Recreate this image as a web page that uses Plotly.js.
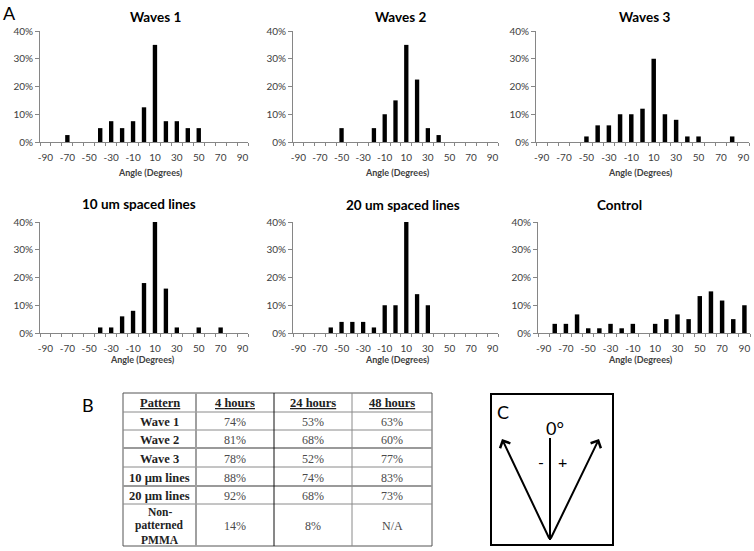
<!DOCTYPE html>
<html>
<head>
<meta charset="utf-8">
<script src="https://cdn.plot.ly/plotly-3.0.1.min.js"></script>
<style>html,body{margin:0;padding:0;background:#fff;}#chart{width:754px;height:551px;}</style>
</head>
<body>
<div id="chart"></div>
<script>
// ---- data ----
const angles = [-90,-80,-70,-60,-50,-40,-30,-20,-10,0,10,20,30,40,50,60,70,80,90];
const waves1  = [0,0,2.5,0,0,5,7.5,5,7.5,12.5,35,7.5,7.5,5,5,0,0,0,0];
const waves2  = [0,0,0,0,5,0,0,5,10,15,35,22.5,5,2.5,0,0,0,0,0];
const waves3  = [0,0,0,0,2,6,6,10,10,12,30,10,8,2,2,0,0,2,0];
const lines10 = [0,0,0,0,0,2,2,6,8,18,40,16,2,0,2,0,2,0,0];
const lines20 = [0,0,0,2,4,4,4,2,10,10,40,14,10,0,0,0,0,0,0];
const control = [0,3.3,3.3,6.7,1.7,1.7,3.3,1.7,3.3,0,3.3,5,6.7,5,13.3,15,11.7,5,10];
const panelTitles = ['Waves 1','Waves 2','Waves 3','10 um spaced lines','20 um spaced lines','Control'];
const xTitle = 'Angle (Degrees)';
const xTickLabels = ['-90','-70','-50','-30','-10','10','30','50','70','90'];

const tableHeader = ['Pattern','4 hours','24 hours','48 hours'];
const patterns = ['Wave 1','Wave 2','Wave 3','10 µm lines','20 µm lines','Non-<br>patterned<br>PMMA'];
const hours4  = ['74%','81%','78%','88%','92%','14%'];
const hours24 = ['53%','68%','52%','74%','68%','8%'];
const hours48 = ['63%','60%','77%','83%','73%','N/A'];

// ---- layout helpers ----
const W = 754, H = 551;
const px = v => v / W;
const py = v => 1 - v / H;
const FONT = 'Lato, "Open Sans", sans-serif';
const SERIF = '"Liberation Serif", "DejaVu Serif", serif';
const TXT = '#404040';
const AXC = '#868686';

const series = [waves1, waves2, waves3, lines10, lines20, control];
const xDom = [[40,248],[293,498],[536,749],[40,248],[293,498],[538,750]];
const yDom = [[142,31],[142,31],[142,31],[333,222],[333,222],[333,222]];
const titlePos = [[155,17],[400,17],[644,17],[139,204],[403,205],[619,205]];
const xTitlePos = [[150,173],[397,173],[640,173],[142,359],[397,359],[640,359]];
const boundaries = angles.map(a => a - 5).concat([angles[angles.length - 1] + 5]);

const data = [];
const layout = {
  width: W, height: H,
  margin: {l:0, r:0, t:0, b:0},
  paper_bgcolor: '#fff', plot_bgcolor: '#fff',
  showlegend: false,
  bargap: 0.6,
  font: {family: FONT, color: TXT},
  annotations: [], shapes: []
};

series.forEach((s, i) => {
  const n = i === 0 ? '' : (i + 1);
  data.push({
    type: 'bar', x: angles, y: s,
    xaxis: 'x' + n, yaxis: 'y' + n,
    marker: {color: '#000', line: {width: 0}},
    hoverinfo: 'x+y'
  });
  layout['xaxis' + n] = {
    domain: [px(xDom[i][0]), px(xDom[i][1])],
    anchor: 'y' + n,
    range: [boundaries[0], boundaries[boundaries.length - 1]],
    tickmode: 'array', tickvals: xTickLabels.map(Number), ticktext: xTickLabels,
    ticks: '', ticklabelstandoff: 6,
    showgrid: false, zeroline: false,
    showline: true, linecolor: AXC, linewidth: 1,
    tickfont: {family: FONT, size: 10, color: TXT},
    minor: {tickmode: 'array', tickvals: boundaries, ticks: 'outside', ticklen: 3, tickcolor: AXC, showgrid: false},
    fixedrange: true
  };
  layout['yaxis' + n] = {
    domain: [py(yDom[i][0]), py(yDom[i][1])],
    anchor: 'x' + n,
    range: [0, 40], tickmode: 'linear', tick0: 0, dtick: 10,
    ticksuffix: '%',
    ticks: 'outside', ticklen: 4, tickcolor: AXC,
    showgrid: false, zeroline: false,
    showline: true, linecolor: AXC, linewidth: 1,
    tickfont: {family: FONT, size: 10, color: TXT},
    fixedrange: true
  };
  layout.annotations.push({
    text: '<b>' + panelTitles[i] + '</b>', xref: 'paper', yref: 'paper',
    x: px(titlePos[i][0]), y: py(titlePos[i][1]), xanchor: 'center', yanchor: 'middle',
    showarrow: false, font: {family: FONT, size: 13.5, color: '#000'}
  });
  layout.annotations.push({
    text: '<b>' + xTitle + '</b>', xref: 'paper', yref: 'paper',
    x: px(xTitlePos[i][0]), y: py(xTitlePos[i][1]), xanchor: 'center', yanchor: 'middle',
    showarrow: false, font: {family: FONT, size: 9, color: TXT}
  });
});

// ---- table B (drawn with shapes + text annotations) ----
const colEdges = [123, 196, 274, 352, 432];
const rowEdges = [393, 412, 430, 448, 467, 486, 504, 546];
const tableCols = [patterns, hours4, hours24, hours48];
const LINE_STEP = 14;
// outer border
layout.shapes.push({type: 'rect', xref: 'paper', yref: 'paper',
  x0: px(colEdges[0]), x1: px(colEdges[4]), y0: py(rowEdges[7]), y1: py(rowEdges[0]),
  line: {color: '#555', width: 1}});
// horizontal rules
for (let r = 1; r < rowEdges.length - 1; r++) {
  const thick = (r === 3 || r === 5);
  layout.shapes.push({type: 'line', xref: 'paper', yref: 'paper',
    x0: px(colEdges[0]), x1: px(colEdges[4]), y0: py(rowEdges[r]), y1: py(rowEdges[r]),
    line: {color: thick ? '#9a9a9a' : '#8a8a8a', width: thick ? 2 : 1}});
}
// vertical rules
[[1, '#a0a0a0', 2], [2, '#111', 1], [3, '#8a8a8a', 1]].forEach(v => {
  layout.shapes.push({type: 'line', xref: 'paper', yref: 'paper',
    x0: px(colEdges[v[0]]), x1: px(colEdges[v[0]]), y0: py(rowEdges[7]), y1: py(rowEdges[0]),
    line: {color: v[1], width: v[2]}});
});
// header
tableHeader.forEach((h, c) => {
  layout.annotations.push({
    text: '<b><u>' + h + '</u></b>', xref: 'paper', yref: 'paper',
    x: px((colEdges[c] + colEdges[c + 1]) / 2), y: py((rowEdges[0] + rowEdges[1]) / 2),
    xanchor: 'center', yanchor: 'middle', showarrow: false,
    font: {family: SERIF, size: 12.5, color: '#222'}
  });
});
// body cells (multi-line cells are split so that line spacing can be tight)
tableCols.forEach((col, c) => {
  col.forEach((val, r) => {
    const parts = val.split('<br>');
    const multi = parts.length > 1;
    const cy = (rowEdges[r + 1] + rowEdges[r + 2]) / 2 + (multi ? 0.5 : 1);
    parts.forEach((part, k) => {
      const yy = cy + (k - (parts.length - 1) / 2) * LINE_STEP;
      layout.annotations.push({
        text: c === 0 ? '<b>' + part + '</b>' : part, xref: 'paper', yref: 'paper',
        x: px((colEdges[c] + colEdges[c + 1]) / 2), y: py(yy),
        xanchor: 'center', yanchor: 'middle', showarrow: false,
        font: {family: SERIF, size: multi ? 11.5 : (c === 0 ? 12.5 : 12), color: c === 0 ? '#222' : '#4a4a4a'}
      });
    });
  });
});

// panel letters
[['A',9,13],['B',88,405],['C',503,412]].forEach(l => {
  layout.annotations.push({
    text: l[0], xref: 'paper', yref: 'paper', x: px(l[1]), y: py(l[2]),
    xanchor: 'center', yanchor: 'middle', showarrow: false,
    font: {family: FONT, size: 18, color: '#000'}
  });
});

// diagram C
layout.shapes.push({type: 'rect', xref: 'paper', yref: 'paper',
  x0: px(491), x1: px(613), y0: py(545), y1: py(394), line: {color: '#000', width: 2}});
layout.shapes.push({type: 'line', xref: 'paper', yref: 'paper',
  x0: px(550), x1: px(550), y0: py(540), y1: py(438), line: {color: '#000', width: 2}});
[[502,439],[599,439]].forEach(p => {
  layout.annotations.push({
    text: '', xref: 'paper', yref: 'paper', x: px(p[0]), y: py(p[1]),
    ax: 550 - p[0], ay: 540 - p[1], axref: 'pixel', ayref: 'pixel',
    showarrow: true, arrowhead: 4, arrowsize: 1.1, arrowwidth: 2, arrowcolor: '#000'
  });
});
[['0°',555,428,18],['-',541,461,16],['+',562,461,16]].forEach(l => {
  layout.annotations.push({
    text: l[0], xref: 'paper', yref: 'paper', x: px(l[1]), y: py(l[2]),
    xanchor: 'center', yanchor: 'middle', showarrow: false,
    font: {family: FONT, size: l[3], color: '#000'}
  });
});

Plotly.newPlot('chart', data, layout, {displayModeBar: false, staticPlot: true});
</script>
</body>
</html>
